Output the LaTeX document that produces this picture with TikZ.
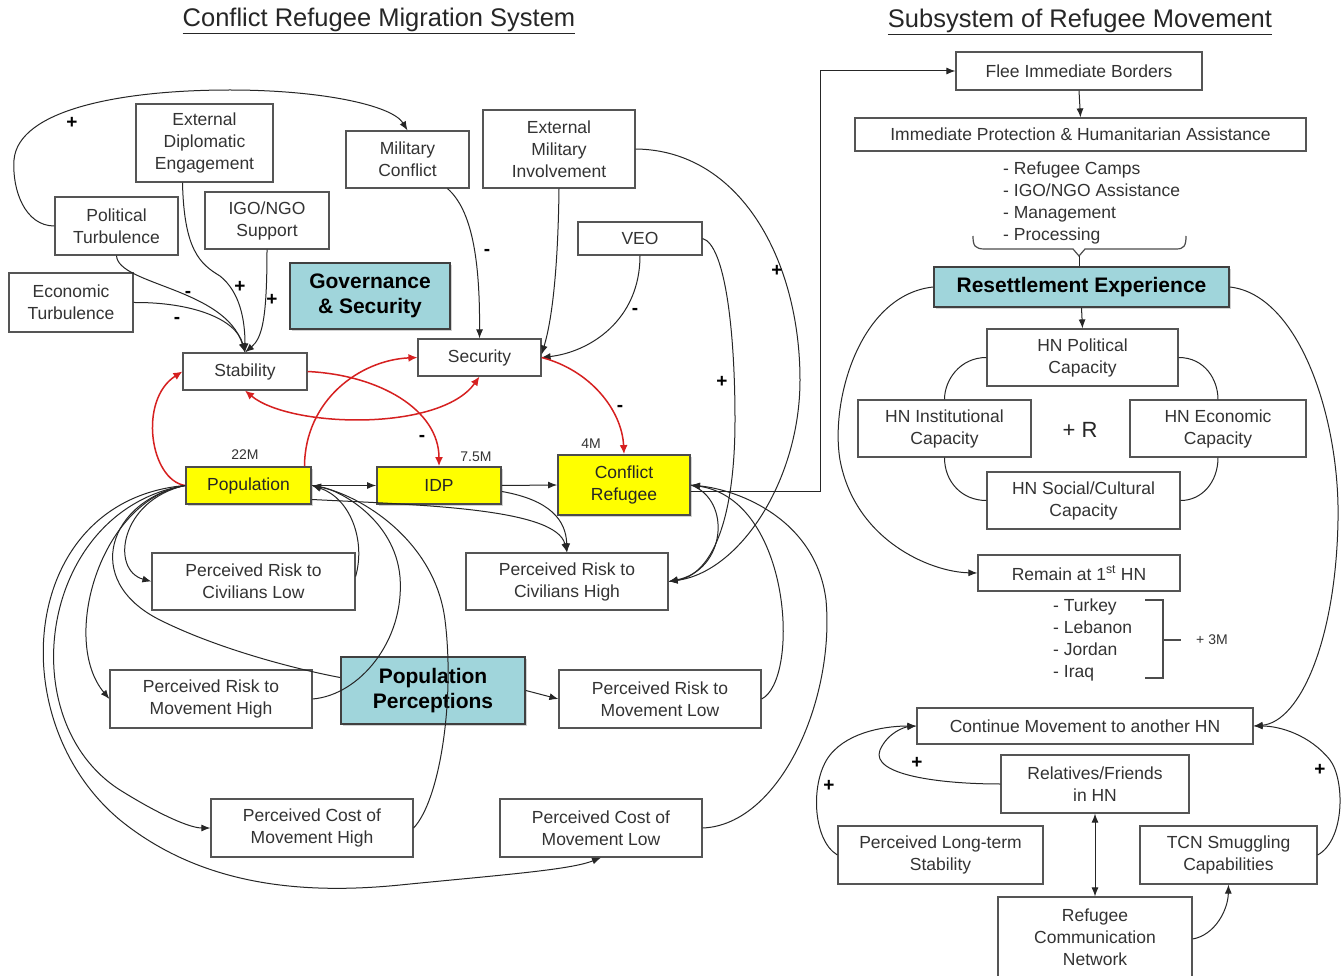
\documentclass[tikz,border=0pt]{standalone}
\usepackage{fontspec}
\setmainfont{Liberation Sans}
\usetikzlibrary{arrows.meta,shadows}
\definecolor{ink}{RGB}{51,51,51}
\definecolor{frame}{RGB}{85,85,85}
\definecolor{hubteal}{RGB}{160,213,219}
\definecolor{loopred}{RGB}{214,32,32}
\definecolor{stockyellow}{RGB}{255,255,0}
\newcommand{\dgboxfont}{\fontsize{17.5}{22}\selectfont}
\newcommand{\dghubfont}{\fontsize{21}{25}\selectfont\bfseries}
\newcommand{\dgsignfont}{\fontsize{19}{19}\selectfont\bfseries}
\newcommand{\dgsmallfont}{\fontsize{14}{16}\selectfont}
\newcommand{\dgtitlefont}{\fontsize{25.5}{30}\selectfont}
\begin{document}
\begin{tikzpicture}[x=1pt,y=-1pt,
  box/.style={draw=frame, fill=white, line width=1.2pt, align=center, inner sep=0pt, text=ink, font=\dgboxfont},
  bx/.style 2 args={box, minimum width=#1pt, minimum height=#2pt},
  stock/.style 2 args={bx={#1}{#2}, fill=stockyellow, draw=black!70, line width=1.8pt, text=black!85,
    drop shadow={opacity=0.35, shadow xshift=2pt, shadow yshift=-2pt}},
  hub/.style 2 args={bx={#1}{#2}, fill=hubteal, draw=black!75, line width=1.8pt, text=black, font=\dghubfont,
    drop shadow={opacity=0.35, shadow xshift=2pt, shadow yshift=-2pt}},
  link/.style={draw=black!85, line width=1pt},
  arr/.style={link, -{Latex[length=9pt,width=7pt]}},
  twoarr/.style={link, {Latex[length=9pt,width=7pt]}-{Latex[length=9pt,width=7pt]}},
  redarr/.style={draw=loopred, line width=1.5pt, -{Latex[length=9pt,width=8pt]}},
  redtwo/.style={draw=loopred, line width=1.5pt, {Latex[length=9pt,width=8pt]}-{Latex[length=9pt,width=8pt]}},
  sign/.style={font=\dgsignfont, text=black, inner sep=0pt},
  small/.style={font=\dgsmallfont, text=ink, inner sep=0pt},
  listtext/.style={font=\dgboxfont, text=ink, align=left, inner sep=0pt, anchor=west},
  title/.style={font=\dgtitlefont, text=black!85, inner sep=0pt},
  bracket/.style={draw=black!70, line width=1.2pt}
]
\useasboundingbox (0,0) rectangle (1344,976);
\fill[white] (0,0) rectangle (1344,976);

% ---------- titles ----------
\node[title] (ttlA) at (379,21) {\underline{Conflict Refugee Migration System}};
\node[title] (ttlB) at (1080,22) {\underline{Subsystem of Refugee Movement}};

% ---------- conflict system: drivers ----------
\node[bx={137}{78}] (extdip) at (204.5,143) {External\\Diplomatic\\Engagement};
\node[bx={123}{57}] (milconf) at (407.5,159.5) {Military\\Conflict};
\node[bx={152}{78}] (extmil) at (559,149) {External\\Military\\Involvement};
\node[bx={123}{58}] (polturb) at (116.5,226) {Political\\Turbulence};
\node[bx={124}{57}] (igo) at (267,220.5) {IGO/NGO\\Support};
\node[bx={124}{59}] (econ) at (71,302.5) {Economic\\Turbulence};
\node[hub={160}{66}] (gov) at (370,296) {Governance\\\& Security};
\node[bx={124}{33}] (veo) at (640,238.5) {VEO};
\node[bx={124}{37}] (stab) at (245,371.5) {Stability};
\node[bx={123}{37}] (sec) at (479.5,357.5) {Security};

% ---------- stocks ----------
\node[stock={125}{37}] (pop) at (248.5,485.5) {Population};
\node[stock={124}{37}] (idp) at (439,485.5) {IDP};
\node[stock={132}{60}] (cref) at (624,485) {Conflict\\Refugee};
\node[small] (lblpop) at (245,455) {22M};
\node[small] (lblidp) at (476,457) {7.5M};
\node[small] (lblref) at (591,444) {4M};

% ---------- perceptions ----------
\node[bx={203}{57}] (prcl) at (253.5,581.5) {Perceived Risk to\\Civilians Low};
\node[bx={202}{57}] (prch) at (567,581.5) {Perceived Risk to\\Civilians High};
\node[bx={202}{58}] (prmh) at (211,699) {Perceived Risk to\\Movement High};
\node[hub={184}{67}] (popper) at (433,690.5) {Population\\Perceptions};
\node[bx={202}{58}] (prml) at (660,699) {Perceived Risk to\\Movement Low};
\node[bx={202}{58}] (pcmh) at (312,828) {Perceived Cost of\\Movement High};
\node[bx={202}{58}] (pcml) at (601,828) {Perceived Cost of\\Movement Low};

% ---------- refugee movement subsystem ----------
\node[bx={246}{38}] (flee) at (1079,71) {Flee Immediate Borders};
\node[bx={451}{33}] (ipha) at (1080.5,134.5) {Immediate Protection \& Humanitarian Assistance};
\node[listtext] (camps) at (1003,203) {- Refugee Camps\\- IGO/NGO Assistance\\- Management\\- Processing};
\node[hub={295}{40}] (reset) at (1081.5,287) {Resettlement Experience};
\node[bx={191}{57}] (hnpol) at (1082.5,357.5) {HN Political\\Capacity};
\node[bx={173}{57}] (hninst) at (944.5,428.5) {HN Institutional\\Capacity};
\node[bx={176}{57}] (hnecon) at (1218,428.5) {HN Economic\\Capacity};
\node[bx={193}{57}] (hnsoc) at (1083.5,500.5) {HN Social/Cultural\\Capacity};
\node[font=\fontsize{22}{22}\selectfont, text=black!85, inner sep=0pt] (loopR) at (1080,430) {+ R};
\node[bx={202}{36}] (remain) at (1079,573) {Remain at 1\textsuperscript{st} HN};
\node[listtext] (hosts) at (1053,640) {- Turkey\\- Lebanon\\- Jordan\\- Iraq};
\node[small, anchor=west] (plus3m) at (1196,640) {+ 3M};
\node[bx={336}{36}] (cont) at (1085,726) {Continue Movement to another HN};
\node[bx={188}{58}] (relfr) at (1095,784) {Relatives/Friends\\in HN};
\node[bx={205}{58}] (plts) at (940.5,855) {Perceived Long-term\\Stability};
\node[bx={177}{58}] (tcn) at (1228.5,855) {TCN Smuggling\\Capabilities};
\node[bx={194}{80}] (rcn) at (1095,937) {Refugee\\Communication\\Network};

% ---------- drivers of stability ----------
\draw[arr] (polturb.west) .. controls (25,226) and (12,190) .. (14,160)
  .. controls (18,110) and (120,90) .. (230,90)
  .. controls (320,90) and (392,105) .. (milconf.north);
\node[sign] (s1) at (72,123) {+};
\draw[arr] ([xshift=-22pt]extdip.south) .. controls (184,250) and (200,264) .. (220,276)
  .. controls (240,292) and (245,320) .. (stab.north);
\node[sign] (s2) at (240,287) {+};
\draw[arr] (polturb.south) .. controls (118,285) and (225,288) .. (stab.north);
\node[sign] (s3) at (188,294) {-};
\draw[arr] (econ.east) .. controls (190,302) and (236,318) .. (stab.north);
\node[sign] (s4) at (177,320) {-};
\draw[arr] (igo.south) .. controls (267,320) and (262,338) .. (stab.north);
\node[sign] (s5) at (272,300) {+};

% ---------- drivers of security ----------
\draw[arr] ([xshift=40pt]milconf.south) .. controls (472,210) and (480,260) .. (sec.north);
\node[sign] (s6) at (487,252) {-};
\draw[arr] (extmil.south) .. controls (558,270) and (552,320) .. ([yshift=3pt]sec.east);
\draw[arr] (veo.south) .. controls (640,320) and (590,352) .. (sec.east);
\node[sign] (s7) at (635,311) {-};
\draw[arr] (extmil.east) .. controls (740,150) and (800,260) .. (800,380)
  .. controls (800,480) and (740,572) .. (prch.east);
\node[sign] (s8) at (777,271) {+};
\draw[arr] (veo.east) .. controls (725,245) and (735,330) .. (735,420)
  .. controls (735,520) and (712,575) .. (prch.east);
\node[sign] (s9) at (722,382) {+};

% ---------- red feedback links ----------
\draw[redarr] (pop.west) .. controls (150,480) and (138,400) .. (stab.west);
\draw[redarr] ([xshift=56pt]pop.north) .. controls (305,400) and (360,360) .. (sec.west);
\draw[redarr] (stab.east) .. controls (380,375) and (439,410) .. (idp.north);
\node[sign] (s10) at (422,438) {-};
\draw[redtwo] (stab.south) .. controls (290,428) and (440,432) .. (sec.south);
\draw[redarr] (sec.east) .. controls (590,370) and (622,410) .. (cref.north);
\node[sign] (s11) at (620,408) {-};

% ---------- flows between stocks ----------
\draw[arr] (pop.east) -- (idp.west);
\draw[arr] (idp.east) -- (cref.west);
\draw[arr] ([yshift=-6pt]idp.east) .. controls (550,500) and (566,520) .. (prch.north);
\draw[arr] ([yshift=-14pt]pop.east) .. controls (420,505) and (556,508) .. (prch.north);
\draw[arr] (cref.east) .. controls (732,500) and (726,570) .. (prch.east);

% ---------- perceptions back to the stocks ----------
\draw[arr] ([yshift=5pt]prcl.east) .. controls (366,540) and (350,498) .. (pop.east);
\draw[arr] (prmh.east) .. controls (360,695) and (405,640) .. (400,577)
  .. controls (395,520) and (340,490) .. (pop.east);
\draw[arr] (pcmh.east) .. controls (440,800) and (455,700) .. (445,620)
  .. controls (435,540) and (360,495) .. (pop.east);
\draw[arr] (prml.east) .. controls (800,680) and (792,500) .. (cref.east);
\draw[arr] (pcml.east) .. controls (780,825) and (835,700) .. (826,600)
  .. controls (816,520) and (740,490) .. (cref.east);

% ---------- population to perceptions ----------
\draw[arr] (pop.west) .. controls (120,500) and (110,570) .. (prcl.west);
\draw[arr] (pop.west) .. controls (100,500) and (60,640) .. (prmh.west);
\draw[arr] (pop.west) .. controls (40,510) and (10,720) .. (120,790)
  .. controls (160,815) and (190,828) .. (pcmh.west);
\draw[arr] (pop.west) .. controls (20,500) and (0,720) .. (120,820)
  .. controls (200,885) and (300,895) .. (400,885)
  .. controls (500,875) and (570,870) .. (pcml.south);
\draw[link] (pop.west) .. controls (110,500) and (80,580) .. (160,620)
  .. controls (220,650) and (300,670) .. ([yshift=13pt]popper.west);
\draw[arr] (popper.east) -- (prml.west);

% ---------- hand-over to the subsystem ----------
\coordinate (corner) at (820,71);
\draw[arr] ([yshift=-6pt]cref.east) -| (corner) -- (flee.west);

% ---------- subsystem links ----------
\draw[arr] (flee.south) -- (ipha.north);
\coordinate (bracetip) at (1079,256);
\draw[bracket] (973,236) .. controls (973,246) and (975,249) .. (985,249) -- (1073,249)
  -- (bracetip) -- (1085,249) -- (1176,249) .. controls (1184,249) and (1186,246) .. (1186,236);
\draw[link] (bracetip) -- (bracetip |- reset.north);
\draw[arr] (reset.south) -- (hnpol.north);
\draw[link] (hnpol.west) .. controls (960,357.5) and (944.5,380) .. (hninst.north);
\draw[link] (hnpol.east) .. controls (1205,357.5) and (1218,380) .. (hnecon.north);
\draw[link] (hninst.south) .. controls (944.5,482) and (962,500.5) .. (hnsoc.west);
\draw[link] (hnecon.south) .. controls (1218,482) and (1202,500.5) .. (hnsoc.east);
\draw[arr] (reset.west) .. controls (860,295) and (830,400) .. (840,460)
  .. controls (855,540) and (930,572) .. (remain.west);
\draw[arr] (reset.east) .. controls (1300,295) and (1340,420) .. (1338,520)
  .. controls (1336,640) and (1300,722) .. (cont.east);
\draw[bracket] (1145,600) -- (1163,600) -- (1163,678) -- (1145,678);
\draw[bracket] (1163,640) -- (1181,640);
\draw[arr] (plts.west) .. controls (812,840) and (810,780) .. (830,755)
  .. controls (850,730) and (890,726) .. (cont.west);
\node[sign] (s12) at (829,786) {+};
\draw[arr] (relfr.west) .. controls (940,784) and (870,775) .. (880,750)
  .. controls (888,732) and (905,727) .. (cont.west);
\node[sign] (s13) at (917,763) {+};
\draw[arr] (tcn.east) .. controls (1345,840) and (1345,780) .. (1330,760)
  .. controls (1310,735) and (1280,726) .. (cont.east);
\node[sign] (s14) at (1320,770) {+};
\draw[twoarr] (relfr.south) -- (rcn.north);
\draw[arr] ([yshift=-2pt]rcn.east) .. controls (1215,935) and (1228,910) .. (tcn.south);
\end{tikzpicture}
\end{document}
